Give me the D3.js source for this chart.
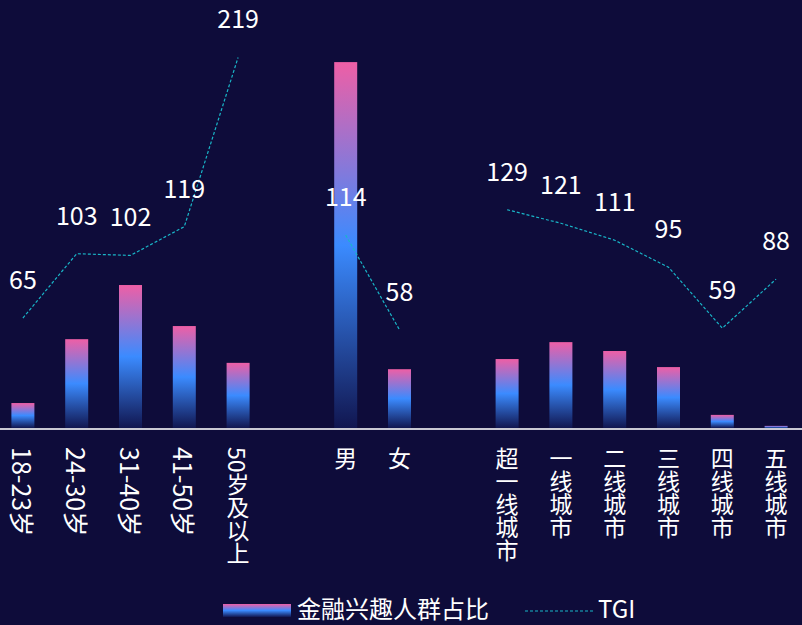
<!DOCTYPE html>
<html>
<head>
<meta charset="utf-8">
<script src="https://cdn.jsdelivr.net/npm/d3@7"></script>
<style>
  html, body { margin: 0; padding: 0; background: #0e0c3a; }
  svg { display: block; }
  text { font-family: "Noto Sans CJK SC", "Noto Sans", sans-serif; fill: #ffffff; }
</style>
</head>
<body>
<svg id="chart"></svg>
<script>
// empty strings are the gaps between the three groups
const categories = ['18-23岁', '24-30岁', '31-40岁', '41-50岁', '50岁及以上', '', '男', '女', '', '超一线城市', '一线城市', '二线城市', '三线城市', '四线城市', '五线城市']
const shareValues = [5.9, 21.0, 33.8, 24.1, 15.4, null, 86.5, 13.9, null, 16.3, 20.3, 18.2, 14.4, 3.1, 0.5]
const tgiValues = [65, 103, 102, 119, 219, null, 114, 58, null, 129, 121, 111, 95, 59, 88]
const legendNames = ['金融兴趣人群占比', 'TGI']

const width = 802
const height = 625
const margin = { top: 5, bottom: 197 }
const baseY = height - margin.bottom

const svg = d3.select('#chart')
  .attr('width', width)
  .attr('height', height)

svg.append('rect')
  .attr('width', width)
  .attr('height', height)
  .attr('fill', '#0e0c3a')

const defs = svg.append('defs')
const grad = defs.append('linearGradient')
  .attr('id', 'barGradient')
  .attr('x1', 0).attr('y1', 0).attr('x2', 0).attr('y2', 1)
grad.append('stop').attr('offset', '0').attr('stop-color', '#ee5fa6')
grad.append('stop').attr('offset', '0.5').attr('stop-color', '#3b8bff')
grad.append('stop').attr('offset', '1').attr('stop-color', '#111650')

const x = d3.scaleBand()
  .domain(d3.range(categories.length))
  .range([-4, 803])
  .padding(0)

const yBar = d3.scaleLinear().domain([0, 100]).range([baseY, margin.top])
const yTgi = d3.scaleLinear().domain([0, 250]).range([baseY, margin.top])

const cx = i => x(i) + x.bandwidth() / 2
const barW = 23

// bars
svg.append('g')
  .selectAll('rect')
  .data(shareValues.map((v, i) => ({ v, i })).filter(d => d.v != null))
  .join('rect')
  .attr('x', d => cx(d.i) - barW / 2)
  .attr('y', d => yBar(d.v))
  .attr('width', barW)
  .attr('height', d => baseY - yBar(d.v))
  .attr('fill', 'url(#barGradient)')

// axis line
svg.append('line')
  .attr('x1', 0).attr('x2', width)
  .attr('y1', baseY + 1).attr('y2', baseY + 1)
  .attr('stroke', '#c9c9d3')
  .attr('stroke-width', 2)

// x labels, written vertically; plain age ranges lie fully on their side
const isSideways = c => /岁$/.test(c) && !/以上/.test(c)

svg.append('g')
  .selectAll('text')
  .data(categories.map((c, i) => ({ c, i })).filter(d => d.c !== ''))
  .join('text')
  .attr('x', d => cx(d.i))
  .attr('y', 447)
  .attr('font-size', d => isSideways(d.c) ? 25 : 23)
  .style('writing-mode', 'vertical-rl')
  .style('text-orientation', d => isSideways(d.c) ? 'sideways' : 'mixed')
  .style('dominant-baseline', 'central')
  .text(d => d.c)

// TGI dashed line, broken between groups
const line = d3.line()
  .defined(d => d.v != null)
  .x(d => cx(d.i))
  .y(d => yTgi(d.v))

svg.append('path')
  .datum(tgiValues.map((v, i) => ({ v, i })))
  .attr('fill', 'none')
  .attr('stroke', '#19b6c8')
  .attr('stroke-width', 1.2)
  .attr('stroke-dasharray', '3,2')
  .attr('d', line)

svg.append('g')
  .selectAll('text')
  .data(tgiValues.map((v, i) => ({ v, i })).filter(d => d.v != null))
  .join('text')
  .attr('x', d => cx(d.i))
  .attr('y', d => yTgi(d.v) - 40)
  .attr('text-anchor', 'middle')
  .attr('dominant-baseline', 'central')
  .attr('font-size', 25)
  .text(d => d.v)

// legend
const legend = svg.append('g')
legend.append('rect')
  .attr('x', 223).attr('y', 604)
  .attr('width', 68).attr('height', 13)
  .attr('fill', 'url(#barGradient)')
legend.append('text')
  .attr('x', 297).attr('y', 607.5)
  .attr('dominant-baseline', 'central')
  .attr('font-size', 24)
  .text(legendNames[0])
legend.append('line')
  .attr('x1', 525).attr('x2', 593)
  .attr('y1', 611).attr('y2', 611)
  .attr('stroke', '#19b6c8')
  .attr('stroke-width', 1.2)
  .attr('stroke-dasharray', '3,2')
legend.append('text')
  .attr('x', 598).attr('y', 607.5)
  .attr('dominant-baseline', 'central')
  .attr('font-size', 24)
  .text(legendNames[1])
</script>
</body>
</html>
